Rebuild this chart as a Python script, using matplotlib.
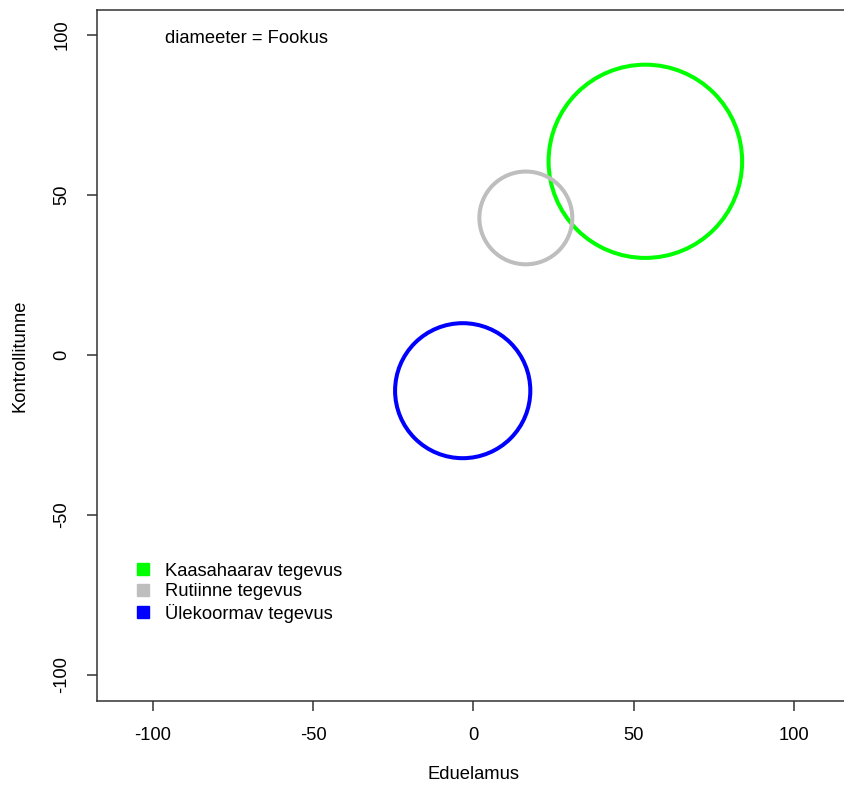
import matplotlib
matplotlib.use('Agg')
import matplotlib.pyplot as plt
from matplotlib.patches import Circle
from matplotlib.lines import Line2D

plt.rcParams['font.family'] = ['Liberation Sans', 'DejaVu Sans']

# activity types: Eduelamus (x), Kontrollitunne (y), Fookus (diameter)
labels = ['Kaasahaarav tegevus', 'Rutiinne tegevus', 'Ülekoormav tegevus']
colors = ['#00ff00', '#bebebe', '#0000ff']
eduelamus = [53.7, 16.4, -3.3]
kontroll = [60.5, 42.8, -11.2]
fookus = [60.4, 29.0, 42.2]

ticks = [-100, -50, 0, 50, 100]
fs = 13.2

fig = plt.figure(figsize=(8.44, 7.85), dpi=100)
ax = fig.add_axes([0.1146, 0.1074, 0.8923, 0.8799])

for x, y, d, c in zip(eduelamus, kontroll, fookus, colors):
    ax.add_patch(Circle((x, y), d / 2, fill=False, edgecolor=c, linewidth=2.9))

ax.set_xlim(-117.5, 117.5)
ax.set_ylim(-108.1, 107.8)
ax.set_xticks(ticks)
ax.set_yticks(ticks)
ax.set_xticklabels([str(t) for t in ticks])
ax.set_yticklabels([str(t) for t in ticks], rotation=90, va='center')

for side in ['top', 'right', 'left', 'bottom']:
    ax.spines[side].set_linewidth(1.1)
    ax.spines[side].set_color('#333333')
ax.tick_params(axis='both', direction='out', length=7, width=1.1,
               color='#333333', labelsize=fs)
ax.tick_params(axis='x', pad=12)
ax.tick_params(axis='y', pad=12)

ax.set_xlabel('Eduelamus', fontsize=fs, labelpad=16)
ax.set_ylabel('Kontrollitunne', fontsize=fs, labelpad=18)

ax.text(-96.2, 99, 'diameeter = Fookus', fontsize=fs, ha='left', va='center')

handles = [Line2D([], [], marker='s', linestyle='none', markersize=9,
                  markerfacecolor=c, markeredgecolor=c) for c in colors]
ax.legend(handles, labels, loc='upper left', bbox_to_anchor=(0.049, 0.2),
          frameon=False, fontsize=fs, handlelength=1.0, handletextpad=0.7,
          labelspacing=0.2, borderpad=0, borderaxespad=0)

fig.savefig('out.png', dpi=100)
